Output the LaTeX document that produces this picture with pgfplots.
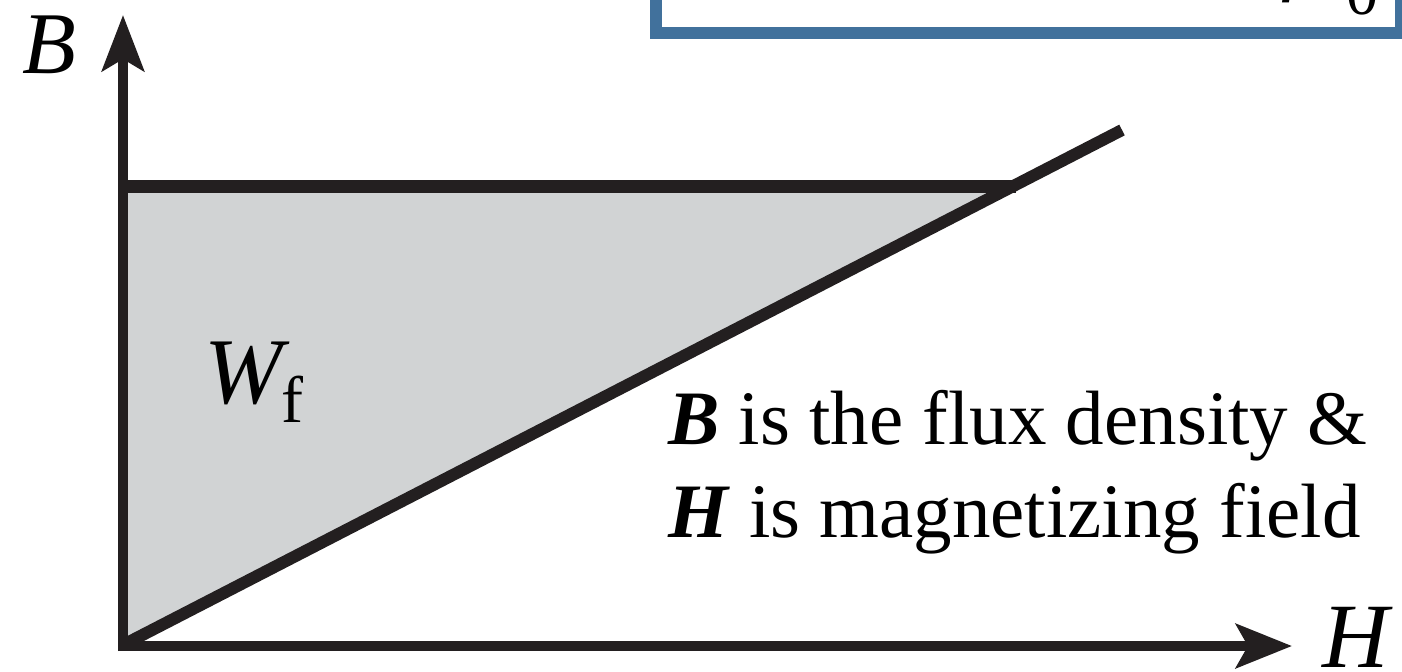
\documentclass[border=0pt]{standalone}
\usepackage{fontspec}
\setmainfont{Liberation Serif}
\usepackage{pgfplots}
\pgfplotsset{compat=1.18}
\usetikzlibrary{arrows.meta}

\definecolor{ink}{HTML}{231F20}
\definecolor{shade}{HTML}{D1D3D4}
\definecolor{frameblue}{HTML}{41719C}

\begin{document}
\begin{tikzpicture}
\begin{axis}[
  width=701pt, height=335.5pt, scale only axis,
  xmin=0, xmax=1402, ymin=0, ymax=671,
  y dir=reverse,
  hide axis, clip=true,
]
% energy stored in the field: area between curve and B axis
\addplot[fill=shade, draw=none] coordinates {(123,645) (123,186) (1013,186)} -- cycle;
% operating flux density level
\addplot[ink, line width=6.5pt] coordinates {(118,186) (1016,186)};
% linear B-H characteristic
\addplot[ink, line width=6pt] coordinates {(123,645) (1122,130)};
% axes
\addplot[ink, line width=5pt, -{Stealth[length=28pt,width=21pt,inset=6pt]}]
  coordinates {(123,651) (123,15)};
\addplot[ink, line width=5pt, -{Stealth[length=28pt,width=22pt,inset=6pt]}]
  coordinates {(118,646) (1292,646)};
% formula box at the top
\addplot[frameblue, line width=6pt] coordinates {(656,-20) (656,33) (1410,33)};
\addplot[frameblue, line width=4pt] coordinates {(1398.5,-20) (1398.5,33)};

\node[anchor=base west, inner sep=0pt, outer sep=0pt]
  at (axis cs:1282,-16) {\fontsize{43pt}{43pt}\selectfont\itshape μ};
\node[anchor=base west, inner sep=0pt, outer sep=0pt]
  at (axis cs:1346,14) {\fontsize{32pt}{32pt}\selectfont 0};

\node[anchor=base west, inner sep=0pt, outer sep=0pt]
  at (axis cs:22,73) {\fontsize{44pt}{44pt}\selectfont\itshape B};
\node[anchor=base west, inner sep=0pt, outer sep=0pt]
  at (axis cs:1322,667) {\fontsize{46pt}{46pt}\selectfont\itshape H};
\node[anchor=base west, inner sep=0pt, outer sep=0pt]
  at (axis cs:204,403) {\fontsize{47pt}{47pt}\selectfont\itshape W};
\node[anchor=base west, inner sep=0pt, outer sep=0pt]
  at (axis cs:281,422) {\fontsize{33pt}{33pt}\selectfont f};

\node[anchor=base west, inner sep=0pt, outer sep=0pt]
  at (axis cs:668,444) {\fontsize{38.5pt}{38.5pt}\selectfont\textbf{\textit{B}} is the flux density \&};
\node[anchor=base west, inner sep=0pt, outer sep=0pt]
  at (axis cs:668,537) {\fontsize{38.5pt}{38.5pt}\selectfont\textbf{\textit{H}} is magnetizing field};

\coordinate (ll) at (axis cs:0,671);
\coordinate (ur) at (axis cs:1402,0);
\end{axis}
\pgfresetboundingbox
\useasboundingbox (ll) rectangle (ur);
\end{tikzpicture}
\end{document}
